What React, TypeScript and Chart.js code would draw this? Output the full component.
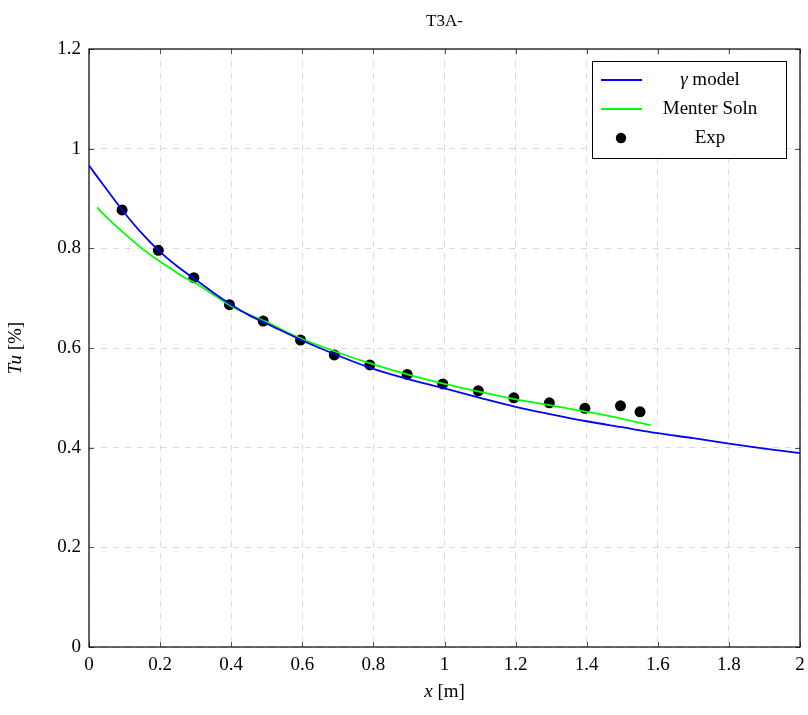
import React, { useEffect, useRef } from "react";
import { Chart, registerables } from "chart.js";

Chart.register(...registerables);

const chartTitle = "T3A-";
const xTickLabels = ["0", "0.2", "0.4", "0.6", "0.8", "1", "1.2", "1.4", "1.6", "1.8", "2"];
const yTickLabels = ["0", "0.2", "0.4", "0.6", "0.8", "1", "1.2"];

const gammaX = [0, 0.05, 0.1, 0.15, 0.2, 0.25, 0.3, 0.35, 0.4, 0.45, 0.5, 0.6, 0.7, 0.8, 0.9, 1.0, 1.1, 1.2, 1.3, 1.4, 1.5, 1.6, 1.7, 1.8, 1.9, 2.0];
const gammaY = [0.966, 0.918, 0.871, 0.829, 0.793, 0.763, 0.737, 0.711, 0.687, 0.666, 0.649, 0.615, 0.585, 0.558, 0.537, 0.519, 0.5, 0.482, 0.467, 0.453, 0.441, 0.429, 0.419, 0.408, 0.398, 0.389];

const menterX = [0.023, 0.05, 0.088, 0.135, 0.182, 0.229, 0.267, 0.3, 0.35, 0.4, 0.45, 0.5, 0.55, 0.6, 0.7, 0.8, 0.9, 1.0, 1.1, 1.2, 1.3, 1.4, 1.5, 1.58];
const menterY = [0.882, 0.862, 0.837, 0.808, 0.782, 0.76, 0.742, 0.73, 0.707, 0.684, 0.667, 0.652, 0.634, 0.618, 0.591, 0.567, 0.546, 0.528, 0.512, 0.497, 0.485, 0.472, 0.458, 0.445];

const expX = [0.093, 0.195, 0.295, 0.395, 0.49, 0.595, 0.69, 0.79, 0.895, 0.995, 1.095, 1.195, 1.295, 1.395, 1.495, 1.55];
const expY = [0.877, 0.796, 0.741, 0.687, 0.654, 0.616, 0.586, 0.566, 0.547, 0.528, 0.514, 0.5, 0.49, 0.479, 0.484, 0.472];

const seriesNames = ["\u03b3 model", "Menter Soln", "Exp"];
const seriesColors = ["#0000ff", "#00ff00", "#000000"];

const SERIF = "'Liberation Serif', 'DejaVu Serif', serif";

const decorPlugin = {
  id: "decor",
  afterDraw(chart: any) {
    const ctx = chart.ctx as CanvasRenderingContext2D;
    const a = chart.chartArea;
    const xs = chart.scales.x;
    const ys = chart.scales.y;
    ctx.save();
    ctx.strokeStyle = "#555";
    ctx.lineWidth = 1;
    const tl = 5;
    ctx.beginPath();
    xs.ticks.forEach((t: any) => {
      const px = Math.round(xs.getPixelForValue(t.value)) + 0.5;
      ctx.moveTo(px, a.bottom);
      ctx.lineTo(px, a.bottom - tl);
      ctx.moveTo(px, a.top);
      ctx.lineTo(px, a.top + tl);
    });
    ys.ticks.forEach((t: any) => {
      const py = Math.round(ys.getPixelForValue(t.value)) + 0.5;
      ctx.moveTo(a.left, py);
      ctx.lineTo(a.left + tl, py);
      ctx.moveTo(a.right, py);
      ctx.lineTo(a.right - tl, py);
    });
    ctx.stroke();
    ctx.strokeStyle = "#000";
    ctx.lineWidth = 1.2;
    ctx.strokeRect(a.left, a.top, a.right - a.left, a.bottom - a.top);

    ctx.fillStyle = "#000";
    ctx.textAlign = "center";
    ctx.textBaseline = "middle";
    ctx.font = `17px ${SERIF}`;
    const cx = (a.left + a.right) / 2;
    ctx.fillText(chartTitle, cx, 22);

    const drawMixed = (parts: [string, boolean][], x: number, y: number, size: number) => {
      let total = 0;
      const widths = parts.map(([s, it]) => {
        ctx.font = `${it ? "italic " : ""}${size}px ${SERIF}`;
        const w = ctx.measureText(s).width;
        total += w;
        return w;
      });
      let cur = x - total / 2;
      ctx.textAlign = "left";
      parts.forEach(([s, it], i) => {
        ctx.font = `${it ? "italic " : ""}${size}px ${SERIF}`;
        ctx.fillText(s, cur, y);
        cur += widths[i];
      });
    };
    drawMixed([["x", true], [" [m]", false]], cx, 692, 19);
    ctx.save();
    ctx.translate(16, (a.top + a.bottom) / 2);
    ctx.rotate(-Math.PI / 2);
    drawMixed([["Tu", true], [" [%]", false]], 0, 0, 19);
    ctx.restore();

    const lx = 592, ly = 61, lw = 194, lh = 97;
    ctx.fillStyle = "#fff";
    ctx.fillRect(lx, ly, lw, lh);
    ctx.strokeStyle = "#000";
    ctx.lineWidth = 1;
    ctx.strokeRect(lx + 0.5, ly + 0.5, lw, lh);
    const rows = [80, 109, 138];
    seriesNames.forEach((name, i) => {
      const ry = rows[i];
      if (i < 2) {
        ctx.strokeStyle = seriesColors[i];
        ctx.lineWidth = 1.8;
        ctx.beginPath();
        ctx.moveTo(601, ry);
        ctx.lineTo(642, ry);
        ctx.stroke();
      } else {
        ctx.fillStyle = "#000";
        ctx.beginPath();
        ctx.arc(621, ry, 5.2, 0, Math.PI * 2);
        ctx.fill();
      }
      ctx.fillStyle = "#000";
      if (i === 0) {
        drawMixed([[name.slice(0, 1), true], [name.slice(1), false]], 710, ry, 19);
      } else {
        drawMixed([[name, false]], 710, ry, 19);
      }
    });
    ctx.restore();
  },
};

export default function App() {
  const ref = useRef<HTMLCanvasElement | null>(null);
  useEffect(() => {
    document.body.style.margin = "0";
    const canvas = ref.current!;
    const chart = new Chart(canvas, {
      type: "line",
      data: {
        datasets: [
          {
            label: seriesNames[0],
            data: gammaX.map((x, i) => ({ x, y: gammaY[i] })),
            borderColor: seriesColors[0],
            borderWidth: 1.8,
            pointRadius: 0,
            cubicInterpolationMode: "monotone",
            fill: false,
          },
          {
            label: seriesNames[1],
            data: menterX.map((x, i) => ({ x, y: menterY[i] })),
            borderColor: seriesColors[1],
            borderWidth: 1.8,
            pointRadius: 0,
            cubicInterpolationMode: "monotone",
            fill: false,
          },
          {
            label: seriesNames[2],
            data: expX.map((x, i) => ({ x, y: expY[i] })),
            showLine: false,
            borderColor: seriesColors[2],
            backgroundColor: seriesColors[2],
            pointRadius: 5.5,
            pointBorderWidth: 0,
          },
        ],
      } as any,
      options: {
        responsive: false,
        animation: false,
        layout: { padding: { left: 0, right: 8, top: 49, bottom: 0 } },
        plugins: { legend: { display: false }, title: { display: false }, tooltip: { enabled: false } },
        scales: {
          x: {
            type: "linear",
            min: 0,
            max: 2,
            ticks: {
              stepSize: 0.2,
              padding: 7,
              color: "#000",
              font: { family: SERIF, size: 19 },
              maxRotation: 0,
              autoSkip: false,
              callback: (_v: any, i: number) => xTickLabels[i],
            },
            grid: { color: "#d9d9d9", drawTicks: false, lineWidth: 1 },
            border: { display: false, dash: [6, 6] },
            afterFit: (s: any) => {
              s.height = 68;
              s.paddingLeft = 0;
              s.paddingRight = 0;
            },
          },
          y: {
            type: "linear",
            min: 0,
            max: 1.2,
            ticks: {
              stepSize: 0.2,
              padding: 8,
              color: "#000",
              font: { family: SERIF, size: 19 },
              autoSkip: false,
              callback: (_v: any, i: number) => yTickLabels[i],
            },
            grid: { color: "#d9d9d9", drawTicks: false, lineWidth: 1 },
            border: { display: false, dash: [6, 6] },
            afterFit: (s: any) => {
              s.width = 89;
              s.paddingTop = 0;
              s.paddingBottom = 0;
            },
          },
        },
      } as any,
      plugins: [decorPlugin],
    });
    return () => chart.destroy();
  }, []);
  return (
    <div style={{ position: "fixed", left: 0, top: 0, width: 808, height: 715, background: "#fff" }}>
      <canvas ref={ref} width={808} height={715} style={{ width: 808, height: 715, display: "block" }} />
    </div>
  );
}
